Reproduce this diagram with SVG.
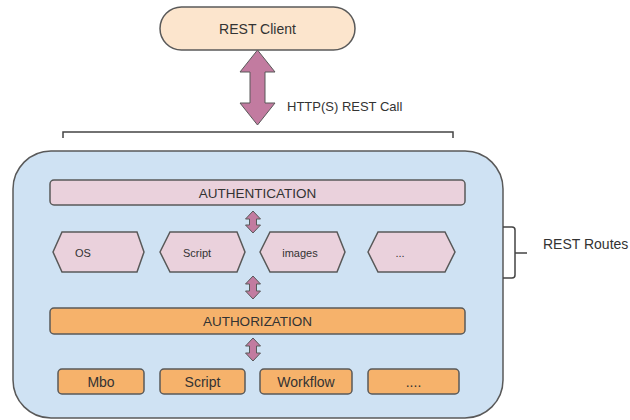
<svg xmlns="http://www.w3.org/2000/svg" width="630" height="420" viewBox="0 0 630 420">
<defs>
<style>
text{font-family:"Liberation Sans",Arial,sans-serif;fill:#333;text-anchor:middle;dominant-baseline:central}
.pink{fill:#ead1dc;stroke:#595959;stroke-width:1.5}
.orange{fill:#f6b26b;stroke:#595959;stroke-width:1.5}
.arrow{fill:#c27ba0;stroke:#595959;stroke-width:1}
.line{fill:none;stroke:#444;stroke-width:1.5}
</style>
</defs>
<rect width="630" height="420" fill="#fff"/>

<g id="container">
<rect x="13" y="151" width="490" height="267" rx="38" ry="38" fill="#cfe2f3" stroke="#595959" stroke-width="1.5"/>
</g>

<g id="rest-client">
<rect x="160" y="7" width="195" height="43" rx="21.5" ry="21.5" fill="#fce5cd" stroke="#595959" stroke-width="1.5"/>
<text x="257.5" y="29" font-size="14">REST Client</text>
</g>

<g id="authentication">
<rect class="pink" x="50" y="180" width="415" height="25" rx="4"/>
<text x="257.5" y="193" font-size="13.5">AUTHENTICATION</text>
</g>

<g id="hex-os">
<polygon class="pink" points="53,252 62,232 137,232 144,252 137,272 62,272"/>
<text x="83" y="253" font-size="11">OS</text>
</g>
<g id="hex-script">
<polygon class="pink" points="160,252 170,232 237,232 245,252 237,272 170,272"/>
<text x="197" y="253" font-size="11">Script</text>
</g>
<g id="hex-images">
<polygon class="pink" points="260,252 270,232 337,232 345,252 337,272 270,272"/>
<text x="300" y="253" font-size="11">images</text>
</g>
<g id="hex-more">
<polygon class="pink" points="368,252 378,232 445,232 455,252 445,272 378,272"/>
<text x="400" y="253" font-size="11" fill="#777">...</text>
</g>

<g id="authorization">
<rect class="orange" x="50" y="308" width="415" height="26" rx="4"/>
<text x="257.5" y="321" font-size="13.5">AUTHORIZATION</text>
</g>

<g id="box-mbo">
<rect class="orange" x="58" y="369" width="86" height="25" rx="4"/>
<text x="101" y="382" font-size="14">Mbo</text>
</g>
<g id="box-script">
<rect class="orange" x="160" y="369" width="85" height="25" rx="4"/>
<text x="202.5" y="382" font-size="14">Script</text>
</g>
<g id="box-workflow">
<rect class="orange" x="260" y="369" width="92" height="25" rx="4"/>
<text x="306" y="382" font-size="14">Workflow</text>
</g>
<g id="box-more">
<rect class="orange" x="368" y="369" width="91" height="25" rx="4"/>
<text x="413.5" y="382" font-size="14">....</text>
</g>

<g id="connectors">
<polygon class="arrow" points="257.5,50 275,72 265,72 265,103 275,103 257.5,125 240,103 250,103 250,72 240,72"/>
<text x="287" y="106" font-size="13" style="text-anchor:start">HTTP(S) REST Call</text>
<path class="line" d="M63,138 V132 H453 V138"/>
<polygon class="arrow" points="253,211 260.5,219 256.5,219 256.5,225 260.5,225 253,233 245.5,225 249.5,225 249.5,219 245.5,219"/>
<polygon class="arrow" points="253,276 260.5,284 256.5,284 256.5,291 260.5,291 253,299 245.5,291 249.5,291 249.5,284 245.5,284"/>
<polygon class="arrow" points="253,338 260.5,346 256.5,346 256.5,353 260.5,353 253,361 245.5,353 249.5,353 249.5,346 245.5,346"/>
<path class="line" d="M503,227 H512 Q515,227 515,230 V275 Q515,278 512,278 H503 M515,253 H527"/>
<text x="543" y="244" font-size="14" style="text-anchor:start">REST Routes</text>
</g>
</svg>
